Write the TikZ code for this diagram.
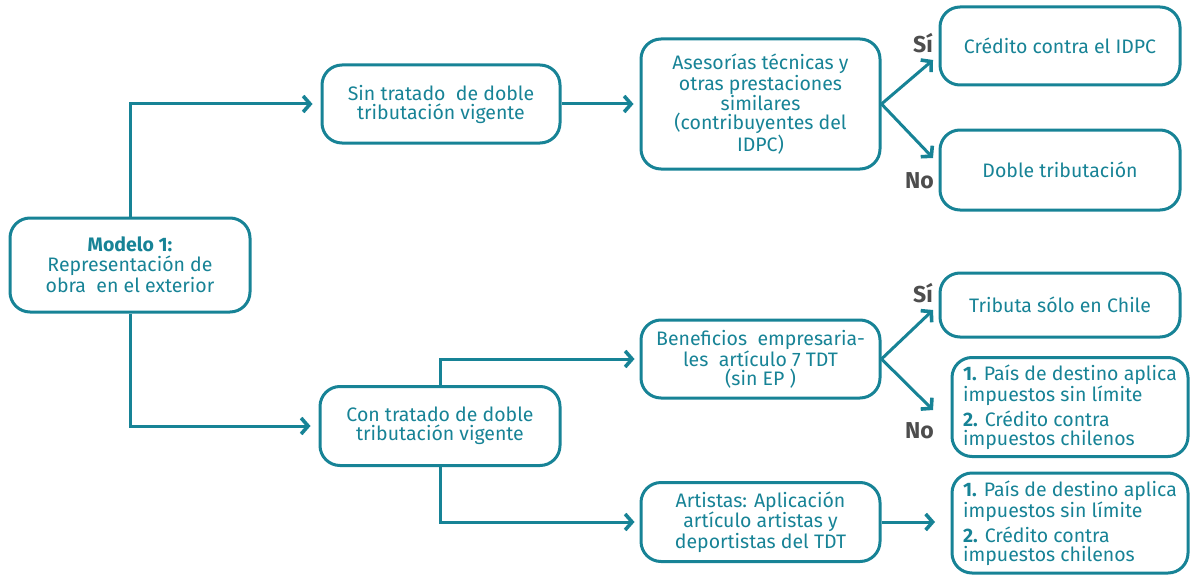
\documentclass[tikz,border=0pt]{standalone}
\usepackage{fontspec}
\setmainfont{Fira Sans}
\newfontfamily\labfont{Fira Sans}
\usetikzlibrary{arrows.meta}
\definecolor{teal1}{RGB}{23,131,150}
\definecolor{gray1}{RGB}{77,77,77}
\begin{document}
\begin{tikzpicture}[x=1pt,y=-1pt,
  box/.style={draw=teal1, line width=3pt, rounded corners=20pt, text=teal1,
    align=center, inner sep=0pt, font=\fontsize{19.5}{19}\selectfont},
  lbox/.style={box, align=left},
  conn/.style={draw=teal1, line width=3pt, -{Straight Barb[length=7pt,width=16pt,line width=3.6pt]}},
  yn/.style={text=gray1, font=\labfont\bfseries\fontsize{23}{23}\selectfont, inner sep=0pt}]
\useasboundingbox (0,0) rectangle (1190,575);
\node[box, minimum width=240pt, minimum height=94pt] (m1) at (130,265)
  {{\bfseries Modelo 1:}\\[1pt]Representación de\\[1pt]obra\ \ en el exterior};
\node[box, minimum width=238pt, minimum height=78pt] (sin) at (441,104)
  {Sin tratado\ \ de doble\\tributación vigente};
\node[box, minimum width=239pt, minimum height=130pt] (ase) at (760.5,104)
  {Asesorías técnicas y\\otras prestaciones\\similares\\(contribuyentes del\\IDPC)};
\node[box, minimum width=240pt, minimum height=78pt] (cred) at (1060,46)
  {Crédito contra el IDPC};
\node[box, minimum width=240pt, minimum height=80pt] (dob) at (1060,170)
  {Doble tributación};
\node[box, minimum width=240pt, minimum height=79pt] (con) at (440,426)
  {Con tratado de doble\\tributación vigente};
\node[box, minimum width=239pt, minimum height=78pt] (ben) at (760.5,359)
  {Beneficios\ \ empresaria-\\les\ \ artículo 7 TDT\\(sin EP )};
\node[box, minimum width=239pt, minimum height=79pt] (art) at (760.5,522)
  {Artistas: Aplicación\\artículo artistas y\\deportistas del TDT};
\node[box, minimum width=240pt, minimum height=64pt] (trib) at (1060,305)
  {Tributa sólo en Chile};
\node[lbox, minimum width=236pt, minimum height=99pt] (r1) at (1070,407)
  {{\bfseries 1.} País de destino aplica\\impuestos sin límite\\[4pt]{\bfseries 2.} Crédito contra\\impuestos chilenos};
\node[lbox, minimum width=236pt, minimum height=100pt] (r2) at (1070,523)
  {{\bfseries 1.} País de destino aplica\\impuestos sin límite\\[4pt]{\bfseries 2.} Crédito contra\\impuestos chilenos};
% labels
\node[yn, anchor=base east] (si1) at (933,53) {Sí};
\node[yn, anchor=base east] (no1) at (934,188) {No};
\node[yn, anchor=base east] (si2) at (933,302) {Sí};
\node[yn, anchor=base east] (no2) at (934,438) {No};
% free ends
\coordinate (t1) at (933,60);
\coordinate (t2) at (933,158);
\coordinate (t3) at (933,310);
\coordinate (t4) at (933,410);
\coordinate (t5) at (935,522);
% connectors
\draw[conn, shorten >=8pt] (m1.north) |- (sin.west);
\draw[conn, shorten >=8pt] (m1.south) |- (con.west);
\draw[conn, shorten >=6pt] (sin.east) -- (ase.west);
\draw[conn] (ase.east) -- (t1);
\draw[conn] (ase.east) -- (t2);
\draw[conn, shorten >=5pt] (con.north) |- (ben.west);
\draw[conn, shorten >=5pt] (con.south) |- (art.west);
\draw[conn] (ben.east) -- (t3);
\draw[conn] (ben.east) -- (t4);
\draw[conn] (art.east) -- (t5);
\end{tikzpicture}
\end{document}
